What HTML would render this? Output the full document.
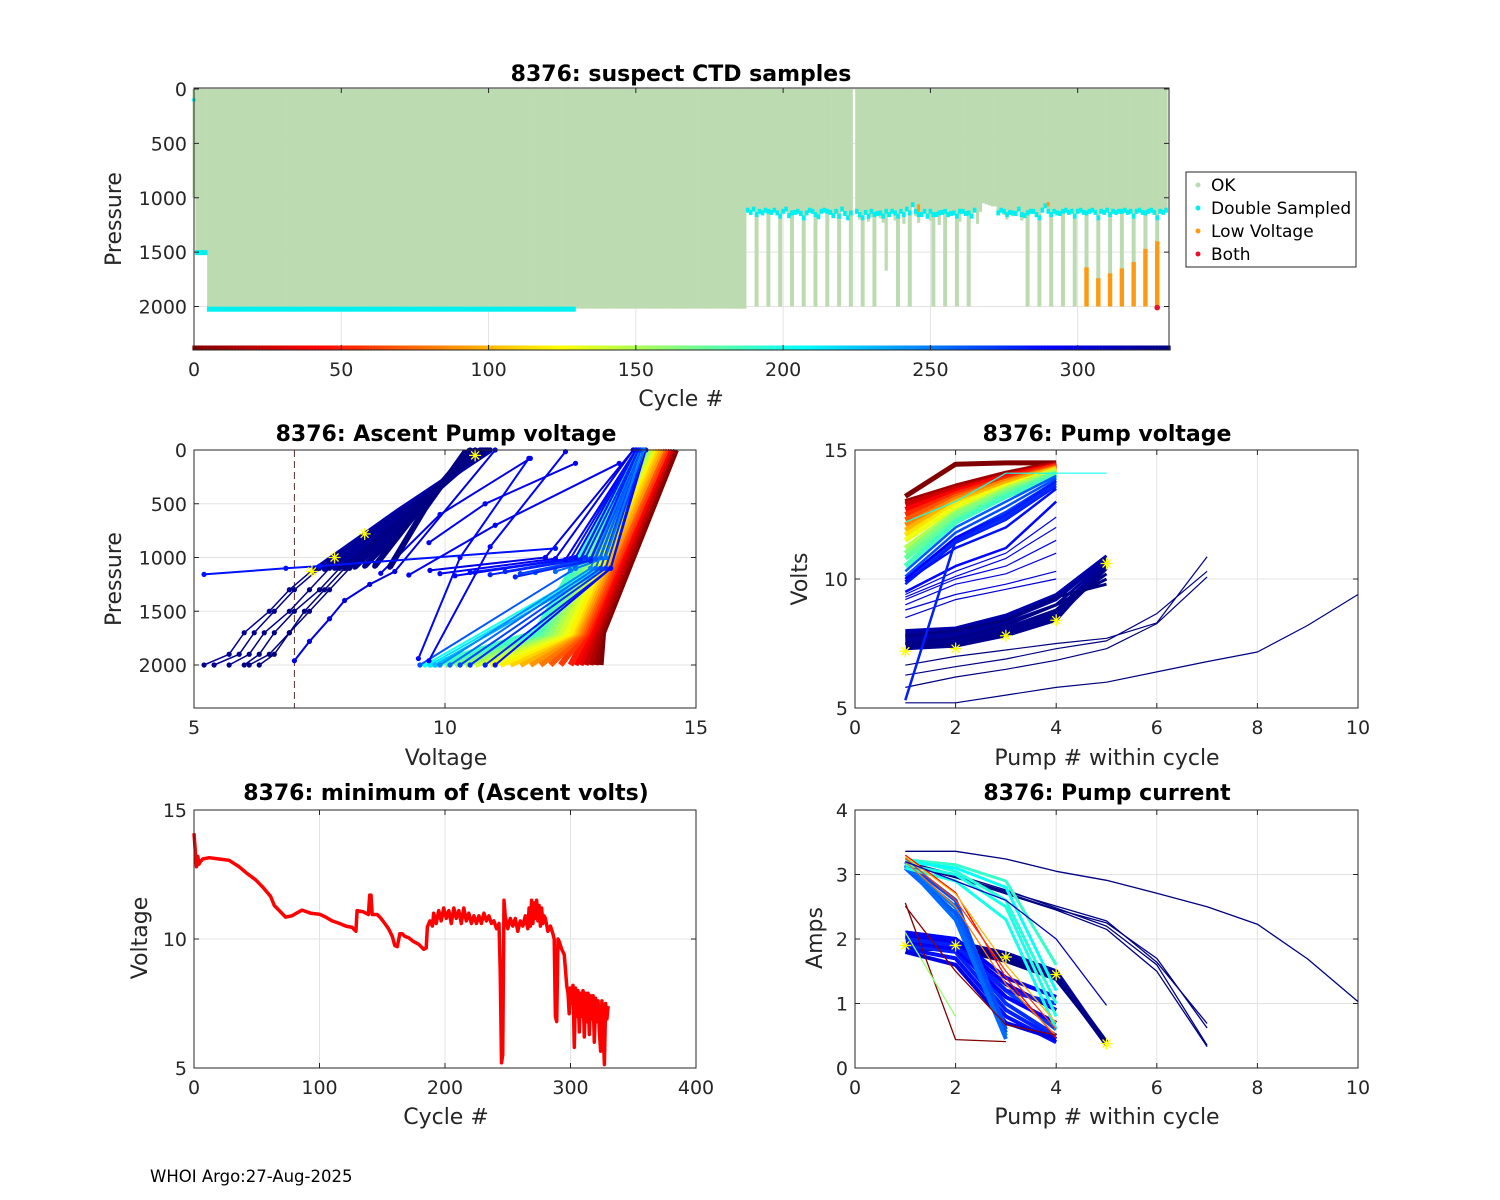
<!DOCTYPE html>
<html><head><meta charset="utf-8"><style>
html,body{margin:0;padding:0;background:#fff;}
svg{display:block;font-family:"DejaVu Sans","Liberation Sans",sans-serif;}
.t{font-weight:bold;font-size:22px;fill:#000;text-anchor:middle}
.lab{font-size:22px;fill:#262626;text-anchor:middle}
.tk{font-size:19px;fill:#262626}
</style></head><body>
<svg id="chart" width="1500" height="1200" viewBox="0 0 1500 1200" xmlns="http://www.w3.org/2000/svg">
<rect width="1500" height="1200" fill="#fff"/>
<g id="layer"></g>
<text class="t" x="681" y="81">8376: suspect CTD samples</text>
<text class="lab" x="681" y="406">Cycle #</text>
<text class="lab" transform="translate(121,219) rotate(-90)">Pressure</text>
<text class="t" x="446" y="441">8376: Ascent Pump voltage</text>
<text class="lab" x="446" y="765">Voltage</text>
<text class="lab" transform="translate(121,579) rotate(-90)">Pressure</text>
<text class="t" x="1107" y="441">8376: Pump voltage</text>
<text class="lab" x="1107" y="765">Pump # within cycle</text>
<text class="lab" transform="translate(807,579) rotate(-90)">Volts</text>
<text class="t" x="446" y="800">8376: minimum of (Ascent volts)</text>
<text class="lab" x="446" y="1124">Cycle #</text>
<text class="lab" transform="translate(147,938) rotate(-90)">Voltage</text>
<text class="t" x="1107" y="800">8376: Pump current</text>
<text class="lab" x="1107" y="1124">Pump # within cycle</text>
<text class="lab" transform="translate(822,938) rotate(-90)">Amps</text>
<text x="150" y="1182" style="font-size:16.5px;fill:#000">WHOI Argo:27-Aug-2025</text>
<g>
<rect x="1186" y="172" width="170" height="95" fill="#fff" stroke="#262626" stroke-width="1"/>
<circle cx="1198" cy="185" r="2.5" fill="#bddbb1"/>
<text x="1211" y="191" style="font-size:17px;fill:#000">OK</text>
<circle cx="1198" cy="208" r="2.5" fill="#00f0f0"/>
<text x="1211" y="214" style="font-size:17px;fill:#000">Double Sampled</text>
<circle cx="1198" cy="231" r="2.5" fill="#ff9a10"/>
<text x="1211" y="237" style="font-size:17px;fill:#000">Low Voltage</text>
<circle cx="1198" cy="254" r="2.5" fill="#e8102a"/>
<text x="1211" y="260" style="font-size:17px;fill:#000">Both</text>
</g>
</svg>
<script>
// ---------- DATA ----------
const depthRunStart = [0, 1, 5];
const depthRunEnd = [0, 4, 187];
const depthRunValue = [1000, 1500, 2020];
const shallowFirstCycle = 188;
const shallowDepths = [1110,1130,1100,2000,1120,1140,1110,2000,1130,1110,1150,2000,1120,1100,1160,2000,1130,1120,1140,2000,1150,1110,1130,2000,1170,1120,1110,2000,1130,1160,1120,2000,1100,1140,1180,2000,0,1150,1200,2000,1130,1220,1180,2000,1140,1190,1230,1670,1160,1120,1210,2000,1150,1240,1100,2000,1060,1170,1230,1150,1120,1180,1210,2000,1150,1250,1130,2000,1180,1140,1160,2000,1220,1120,1140,2000,1170,1110,1240,1130,1050,1060,1070,1080,1080,1140,1110,1160,1200,1130,1170,1140,1100,1210,1160,2000,1120,1150,1180,2000,1110,1070,1130,2000,1120,1150,1140,2000,1110,1130,1120,2000,1120,1110,1130,2000,1120,1110,1130,2000,1120,1130,1110,2000,1120,1130,1120,2000,1110,1130,1120,2000,1120,1110,1130,2000,1120,1110,1130,2010,1120,1130,1110];
const lowVoltCycles = [303,307,311,315,319,323,327];
const lowVoltTop = [1640,1740,1695,1650,1590,1470,1400];
const lowVoltBottom = [2000,2000,2000,2000,2000,2000,2000];
const bothCycles = [327];
const bothPres = [2010];
const ctdXTicks = [0,50,100,150,200,250,300];
const ctdYTicks = [0,500,1000,1500,2000];

const profCycle = [0,8,16,24,32,40,50,60,70,80,90,100,110,120,130,140,150,160,170,180,186,
 200,215,230,245,255,262,268,274,280,286,
 250,256,262,268,274,280,286,290,294,298,278,284,
 288,290,292,294,296,
 318,320,322,324,326,328,330,331,
 325,327,329,330,331,331,300,284];
const profVolts = [
 [13.1,13.15,14.6],[13.0,13.1,14.55],[12.9,13.05,14.5],[12.8,13.0,14.5],[12.7,12.95,14.45],[12.6,12.9,14.45],[12.5,12.85,14.4],[12.3,12.8,14.4],[12.1,12.75,14.35],[11.9,12.7,14.3],[11.7,12.65,14.3],[11.5,12.6,14.25],[11.3,12.55,14.2],[11.1,12.5,14.15],[10.9,12.4,14.1],[10.6,12.3,14.1],[10.4,12.2,14.05],[10.2,12.1,14.0],[10.0,12.0,14.0],[9.8,11.9,13.95],[9.7,11.8,13.9],
 [9.6,13.0,13.9],[9.7,13.1,13.9],[9.8,13.2,13.95],[9.9,12.9,13.85],[10.1,13.0,13.9],[9.5,12.6,13.8],[10.3,13.1,13.9],[10.5,13.2,13.95],[10.8,13.3,13.95],[11.0,13.3,14.0],
 [12.5,13.2,13.95],[12.2,13.1,13.9],[11.8,13.0,13.9],[11.5,12.9,13.85],[11.2,12.8,13.85],[10.9,12.7,13.8],[10.6,12.6,13.8],[10.2,12.4,13.8],[9.9,12.2,13.75],[9.7,12.0,13.75],[11.4,12.9,13.85],[10.5,12.5,13.8],
 [9.47,10.3,11.67],[9.68,10.9,12.4],[9.28,11.0,13.47],[9.68,10.8,12.6],[8.72,9.9,11.7],
 [7.4,9.1,10.9],[7.6,9.2,10.85],[7.8,9.3,10.8],[8.0,9.4,10.75],[8.2,9.4,10.7],[8.4,9.5,10.6],[8.6,9.5,10.5],[8.9,9.6,10.4],
 [5.2,5.7,6.0,6.5,6.9,7.4,10.9],[5.4,5.9,6.2,6.6,7.0,7.5,10.85],[5.7,6.1,6.4,6.9,7.3,7.7,10.8],[6.0,6.3,6.6,7.0,7.5,7.9,10.75],[6.3,6.6,6.9,7.2,7.6,8.0,10.7],[6.1,6.5,6.9,7.3,7.7,8.1,10.6],[7.0,7.3,7.7,8.0,8.5,9.0,11.0],[5.2,6.83,7.5,12.2]];
const profPres = [
 [2000,1700,0],[2000,1700,0],[2000,1700,0],[2000,1700,0],[2000,1700,0],[2000,1700,0],[2000,1700,0],[2000,1700,0],[2000,1700,0],[2000,1700,0],[2000,1700,0],[2000,1700,0],[2000,1700,0],[2000,1700,0],[2000,1700,0],[2000,1700,0],[2000,1700,0],[2000,1700,0],[2000,1700,0],[2000,1700,0],[2000,1700,0],
 [2000,1100,0],[2000,1100,0],[2000,1100,0],[2000,1100,0],[2000,1100,0],[2000,1100,0],[2000,1100,0],[2000,1100,0],[2000,1100,0],[2000,1100,0],
 [1120,1000,0],[1130,1000,0],[1140,1010,0],[1150,1010,0],[1130,1000,0],[1160,1020,0],[1140,1000,0],[1170,1020,0],[1150,1010,0],[1120,1000,0],[1180,1030,0],[1140,1010,0],
 [1940,1000,78],[1960,900,15],[1163,700,124],[862,500,124],[1147,600,78],
 [1120,560,0],[1110,560,0],[1100,550,0],[1100,550,0],[1090,545,0],[1080,540,0],[1080,540,0],[1090,545,20],
 [2000,1900,1700,1500,1300,1100,0],[2000,1900,1700,1500,1300,1100,0],[2000,1900,1700,1500,1300,1100,0],[2000,1900,1700,1500,1300,1100,0],[2000,1900,1700,1500,1300,1100,0],[2000,1900,1700,1500,1300,1100,0],[1960,1780,1570,1400,1250,1130,0],[1157,1100,1080,915]];
const ascentStarV = [8.4,7.8,7.35,10.6];
const ascentStarP = [780,1000,1130,50];
const ascentXTicks = [5,10,15];
const ascentYTicks = [0,500,1000,1500,2000];

const pvCycle = [0,10,25,40,55,70,85,100,115,130,150,165,175,185,260,265,270,275,280,285,290,288,292,294,296,298,300,302,318,320,321,322,323,324,325,326,327,328,329,330,331,331,331,331,280,200];
const pvVolts = [
 [13.2,14.45,14.5,14.5],[13.0,13.6,14.1,14.5],[12.9,13.5,14.0,14.45],[12.7,13.4,14.0,14.4],[12.5,13.3,13.9,14.4],[12.3,13.2,13.8,14.35],[12.1,13.1,13.8,14.3],[11.9,13.0,13.7,14.3],[11.7,12.9,13.6,14.25],[11.5,12.8,13.6,14.2],[11.2,12.6,13.5,14.2],[11.0,12.5,13.4,14.1],[10.8,12.3,13.3,14.1],[10.5,12.2,13.2,14.0],[10.3,12.0,13.0,14.0],[10.1,11.8,12.8,13.9],[10.0,11.6,12.6,13.8],[9.9,11.5,12.4,13.7],[9.8,11.4,12.3,13.6],[9.9,11.2,12.0,13.5],[10.0,11.6,12.5,13.8],[9.5,10.5,11.2,13.0],[9.4,10.3,11.0,12.4],[9.3,10.1,10.8,12.0],[9.2,10.0,10.5,11.5],[9.0,9.8,10.2,11.0],[8.8,9.4,9.8,10.3],[8.5,9.2,9.6,10.0],
 [8.0,8.1,8.6,9.4,10.9],[7.9,8.0,8.5,9.3,10.8],[7.8,7.9,8.4,9.2,10.8],[7.7,7.8,8.3,9.0,10.7],[7.6,7.7,8.1,8.8,10.6],[7.5,7.6,8.0,8.7,10.6],[7.4,7.5,7.9,8.6,10.5],[7.3,7.4,7.8,8.4,10.6],[7.35,7.4,7.85,8.5,10.4],[7.4,7.5,8.0,8.8,10.2],[7.5,7.7,8.2,9.0,10.0],[7.8,8.0,8.4,9.3,9.8],
 [6.66,7.0,7.25,7.5,7.7,8.3,10.86],[6.27,6.6,6.9,7.3,7.6,8.66,10.3],[5.8,6.2,6.5,6.85,7.3,8.27,10.08],
 [5.2,5.2,5.5,5.8,6.0,6.4,6.8,7.17,8.2,9.4],
 [5.3,11.5,12.5,13.8],[12.2,13.0,14.1,14.1,14.1]];
const pvStarPump = [1,2,3,4,5];
const pvStarVolts = [7.2,7.3,7.8,8.4,10.6];
const pvXTicks = [0,2,4,6,8,10];
const pvYTicks = [5,10,15];

const piCycle = [331,330,330,331,330,320,322,324,326,328,330,270,275,280,285,290,295,300,280,290,250,260,265,255,190,195,200,205,198,40,60,80,100,0,4,160,310];
const piAmps = [
 [3.36,3.36,3.24,3.05,2.91,2.71,2.5,2.23,1.69,1.03],
 [3.17,2.97,2.74,2.51,2.28,1.64,0.69],[3.2,3.0,2.76,2.48,2.2,1.6,0.35],[3.15,2.95,2.7,2.45,2.15,1.5,0.33],[3.2,2.97,2.72,2.46,2.25,1.7,0.62],
 [1.98,1.95,1.78,1.5,0.38],[1.95,1.92,1.74,1.46,0.4],[1.92,1.9,1.72,1.44,0.38],[1.9,1.88,1.7,1.42,0.36],[1.88,1.86,1.68,1.4,0.38],[1.85,1.84,1.66,1.38,0.4],
 [2.1,2.0,1.2,0.6],[2.0,1.9,1.0,0.5],[1.9,1.8,0.9,0.45],[1.85,1.7,0.8,0.4],[1.95,1.85,1.1,0.7],[2.05,1.95,1.3,0.9],[1.8,1.6,0.7,0.45],[2.0,1.9,1.2,1.0],[2.1,2.0,1.4,1.1],
 [3.13,2.5,0.5],[3.1,2.4,0.55],[3.2,2.6,0.6],[3.15,2.3,0.45],
 [3.23,3.15,2.9,1.6],[3.25,3.05,2.6,1.0],[3.1,2.9,2.3,0.6],[3.2,3.1,2.8,1.2],[3.15,3.0,2.5,0.8],
 [3.3,2.72,1.4,0.46],[3.25,2.6,1.5,0.6],[3.2,2.5,1.3,0.5],[3.28,2.7,1.6,0.7],
 [2.56,0.44,0.41],[2.51,1.5,0.67,0.51],[2.1,0.8],[3.2,2.9,2.6,2.0,0.97]];
const piStarPump = [1,2,3,4,5];
const piStarAmps = [1.9,1.9,1.72,1.45,0.38];
const piXTicks = [0,2,4,6,8,10];
const piYTicks = [0,1,2,3,4];

const minvCycle = [0,1,2,3,4,5,7,12,20,28,36,42,49,55,61,64,68,73,78,86,93,100,105,110,116,121,126,129,130,135,139,140,141,142,146,149,152,155,158,160,162,164,166,168,171,175,179,183,185,186,188,190,191,193,195,197,199,201,203,205,207,209,211,213,215,217,219,221,223,225,227,229,231,233,235,237,239,241,243,244,245,246,247,248,250,252,254,256,258,260,262,264,266,267,268,269,270,271,272,273,274,275,276,277,278,279,280,282,284,286,287,288,289,290,291,293,295,296,297,298,299,300,301,302,303,304,305,306,307,308,309,310,311,312,313,314,315,316,317,318,319,320,321,322,323,324,325,326,327,328,329,330];
const minvVolts = [14.1,13.4,12.8,13.2,12.9,13.0,13.1,13.15,13.1,13.05,12.8,12.55,12.3,12.0,11.65,11.3,11.1,10.85,10.9,11.12,11.0,10.96,10.85,10.7,10.6,10.5,10.45,10.3,11.1,11.05,10.95,11.7,11.7,10.95,10.95,10.8,10.6,10.4,10.1,9.75,9.7,10.2,10.2,10.1,10.05,9.9,9.8,9.6,9.65,10.47,10.7,10.5,11.0,10.6,11.1,10.7,11.2,10.8,11.1,10.6,11.2,10.8,11.1,10.6,11.2,10.7,11.0,10.6,10.9,10.6,10.9,10.6,11.0,10.7,10.9,10.6,10.7,10.4,10.6,8.8,5.2,5.5,11.5,10.9,10.4,10.8,10.5,10.8,10.3,10.7,10.5,10.9,10.4,11.2,10.5,11.5,10.6,11.4,10.8,11.5,10.7,11.3,10.5,11.2,10.6,10.9,10.8,10.3,10.5,10.2,10.0,7.0,6.8,10.0,9.9,9.6,9.4,8.8,8.2,7.9,7.1,8.1,7.5,8.2,5.8,8.1,7.0,8.0,6.4,7.9,7.0,8.0,6.2,7.9,6.8,7.9,6.3,7.8,6.9,7.8,6.0,7.7,6.8,7.6,6.4,5.65,7.6,6.5,5.13,7.5,6.9,7.4];
const minvXTicks = [0,100,200,300,400];
const minvYTicks = [5,10,15];

// ---------- DRAWING ----------
const NS = 'http://www.w3.org/2000/svg';
const layer = document.getElementById('layer');
function mk(tag, attrs, name, parent) {
  const e = document.createElementNS(NS, tag);
  for (const k in attrs) e.setAttribute(k, attrs[k]);
  
  
  (parent || layer).appendChild(e);
  return e;
}
function clamp(v){return Math.max(0,Math.min(1,v));}
function jetColor(c){
  const t = 1 - c/331;
  const r = clamp(Math.min(4*t-1.5, -4*t+4.5));
  const g = clamp(Math.min(4*t-0.5, -4*t+3.5));
  const b = clamp(Math.min(4*t+0.5, -4*t+2.5));
  return 'rgb('+Math.round(r*255)+','+Math.round(g*255)+','+Math.round(b*255)+')';
}
function lin(d0,d1,p0,p1){return v => p0 + (v-d0)*(p1-p0)/(d1-d0);}
function makeAxes(prefix, X0, X1, Y0, Y1, sx, sy, xt, yt) {
  const g = mk('g', {}, prefix+'-axes');
  mk('rect', {x:X0,y:Y0,width:X1-X0,height:Y1-Y0,fill:'#fff'}, prefix+'-plot-area', g);
  xt.forEach(v => {
    const x = sx(v);
    mk('line', {x1:x,x2:x,y1:Y0,y2:Y1,stroke:'#e3e3e3','stroke-width':1}, prefix+'-x-grid', g);
  });
  yt.forEach(v => {
    const y = sy(v);
    mk('line', {x1:X0,x2:X1,y1:y,y2:y,stroke:'#e3e3e3','stroke-width':1}, prefix+'-y-grid', g);
  });
  const data = mk('g', {}, prefix+'-data');
  const fr = mk('g', {}, prefix+'-frame');
  mk('rect', {x:X0,y:Y0,width:X1-X0,height:Y1-Y0,fill:'none',stroke:'#262626','stroke-width':1}, prefix+'-axes-box', fr);
  xt.forEach(v => {
    const x = sx(v);
    mk('line', {x1:x,x2:x,y1:Y1,y2:Y1-5,stroke:'#262626'}, prefix+'-x-tick', fr);
    mk('line', {x1:x,x2:x,y1:Y0,y2:Y0+5,stroke:'#262626'}, prefix+'-x-tick', fr);
    const t = mk('text', {x:x,y:Y1+26,'class':'tk','text-anchor':'middle'}, prefix+'-x-tick-label', fr);
    t.textContent = v;
  });
  yt.forEach(v => {
    const y = sy(v);
    mk('line', {x1:X0,x2:X0+5,y1:y,y2:y,stroke:'#262626'}, prefix+'-y-tick', fr);
    mk('line', {x1:X1,x2:X1-5,y1:y,y2:y,stroke:'#262626'}, prefix+'-y-tick', fr);
    const t = mk('text', {x:X0-7,y:y+7,'class':'tk','text-anchor':'end'}, prefix+'-y-tick-label', fr);
    t.textContent = v;
  });
  return data;
}
function pathD(xs, ys){return xs.map((x,i)=>(i?'L':'M')+x.toFixed(1)+','+ys[i].toFixed(1)).join('');}
function star(g, x, y, name){
  const s=6;
  mk('path',{d:`M${x-s},${y}L${x+s},${y}M${x},${y-s}L${x},${y+s}M${x-4},${y-4}L${x+4},${y+4}M${x-4},${y+4}L${x+4},${y-4}`,stroke:'#ffff00','stroke-width':1.3,fill:'none'}, name, g);
}

// ---- Top: CTD samples ----
(function(){
  const sx = lin(0,331,194,1169), sy = lin(0,2400,89,350);
  const g = makeAxes('ctd',194,1169,88,350,sx,sy,ctdXTicks,ctdYTicks);
  const depth = [];
  depthRunStart.forEach((s,i)=>{ for(let c=s;c<=depthRunEnd[i];c++) depth[c]=depthRunValue[i]; });
  shallowDepths.forEach((d,i)=>{ depth[shallowFirstCycle+i]=d; });
  for(let c=0;c<depth.length;c++){
    if(!depth[c]) continue;
    const w = depth[c]>=1900 && c>=188 ? 4 : 3.2;
    mk('rect',{x:sx(c)-w/2,y:sy(0),width:w,height:sy(depth[c])-sy(0),fill:'#bddbb1'}, 'ok-profile-bar', g);
  }
  for(let c=0;c<depth.length;c++){
    if(!depth[c]) continue;
    let p=null;
    if(c>=5 && c<=129) p=depth[c];
    else if(c>=1 && c<=4) p=depth[c];
    else if(c>=188 && !(c>=266 && c<=272)) p=Math.min(depth[c],1120+((c*37)%5)*15);
    if(p!==null) mk('rect',{x:sx(c)-1.8,y:sy(p)-2,width:3.6,height:5,fill:'#00f0f0'}, 'double-sampled-point', g);
  }
  mk('circle',{cx:sx(0),cy:sy(100),r:2,fill:'#00f0f0'}, 'double-sampled-point', g);
  lowVoltCycles.forEach((c,i)=>{
    mk('rect',{x:sx(c)-2.2,y:sy(lowVoltTop[i]),width:4.4,height:sy(lowVoltBottom[i])-sy(lowVoltTop[i]),fill:'#ff9a10'}, 'low-voltage-bar', g);
  });
  mk('rect',{x:sx(246)-1.5,y:sy(1060),width:3,height:sy(1130)-sy(1060),fill:'#ff9a10'}, 'low-voltage-bar', g);
  mk('rect',{x:sx(290)-1.5,y:sy(1040),width:3,height:sy(1080)-sy(1040),fill:'#ff9a10'}, 'low-voltage-bar', g);
  bothCycles.forEach((c,i)=>{
    mk('circle',{cx:sx(c),cy:sy(bothPres[i]),r:2.8,fill:'#e8102a'}, 'both-flag-point', g);
  });
  for(let c=0;c<=331;c++){
    mk('rect',{x:sx(c)-1.6,y:345.5,width:3.2,height:5,fill:jetColor(c)}, 'cycle-color-strip', g);
  }
})();

// ---- Mid-left: Ascent pump voltage ----
(function(){
  const sx = lin(5,15,194,696), sy = lin(0,2400,450,708);
  const g = makeAxes('ascent',194,696,450,708,sx,sy,ascentXTicks,ascentYTicks);
  mk('line',{x1:sx(7),x2:sx(7),y1:450,y2:708,stroke:'#5a3030','stroke-width':1,'stroke-dasharray':'7,4'}, 'voltage-threshold-line', g);
  profCycle.forEach((c,i)=>{
    const xs = profVolts[i].map(sx), ys = profPres[i].map(sy);
    const isShallowNavy = c>=318 && profVolts[i].length===3;
    const w = c<=186 ? 6 : (isShallowNavy ? 6 : (c>=318 ? 1.5 : 2));
    mk('path',{d:pathD(xs,ys),stroke:jetColor(c),'stroke-width':w,fill:'none','stroke-linejoin':'round'}, 'ascent-profile-line', g);
    if(c>186){
      xs.forEach((x,j)=>{ mk('circle',{cx:x,cy:ys[j],r:2.6,fill:jetColor(c)}, 'ascent-sample-point', g); });
    }
  });
  ascentStarV.forEach((v,i)=>star(g, sx(v), sy(ascentStarP[i]), 'ascent-latest-marker'));
})();

// ---- Mid-right: Pump voltage ----
(function(){
  const sx = lin(0,10,855,1358), sy = lin(5,15,708,450);
  const g = makeAxes('pumpv',855,1358,450,708,sx,sy,pvXTicks,pvYTicks);
  pvCycle.forEach((c,i)=>{
    const xs = pvVolts[i].map((v,j)=>sx(j+1)), ys = pvVolts[i].map(sy);
    const n = pvVolts[i].length;
    const w = c<=190 ? 5 : (n===5 && c>=318 ? 3 : (c>=255 && c<=290 ? 2.5 : 1.2));
    mk('path',{d:pathD(xs,ys),stroke:jetColor(c),'stroke-width':w,fill:'none','stroke-linejoin':'round'}, 'pump-voltage-line', g);
  });
  pvStarPump.forEach((p,i)=>star(g, sx(p), sy(pvStarVolts[i]), 'pump-voltage-latest-marker'));
})();

// ---- Bottom-left: minimum ascent volts ----
(function(){
  const sx = lin(0,400,194,696), sy = lin(5,15,1068,810);
  const g = makeAxes('minv',194,696,810,1068,sx,sy,minvXTicks,minvYTicks);
  mk('path',{d:pathD(minvCycle.map(sx), minvVolts.map(sy)),stroke:'#ff0000','stroke-width':3.5,fill:'none','stroke-linejoin':'round'}, 'min-voltage-line', g);
})();

// ---- Bottom-right: Pump current ----
(function(){
  const sx = lin(0,10,855,1358), sy = lin(0,4,1068,810);
  const g = makeAxes('pumpi',855,1358,810,1068,sx,sy,piXTicks,piYTicks);
  piCycle.forEach((c,i)=>{
    const xs = piAmps[i].map((v,j)=>sx(j+1)), ys = piAmps[i].map(sy);
    const n = piAmps[i].length;
    const w = (n===5 && c>=318) ? 4 : (c>=250 && c<=300 ? 4 : (c>=188 && c<=205 ? 3 : 1.3));
    mk('path',{d:pathD(xs,ys),stroke:jetColor(c),'stroke-width':w,fill:'none','stroke-linejoin':'round'}, 'pump-current-line', g);
  });
  piStarPump.forEach((p,i)=>star(g, sx(p), sy(piStarAmps[i]), 'pump-current-latest-marker'));
})();
</script>
</body></html>
